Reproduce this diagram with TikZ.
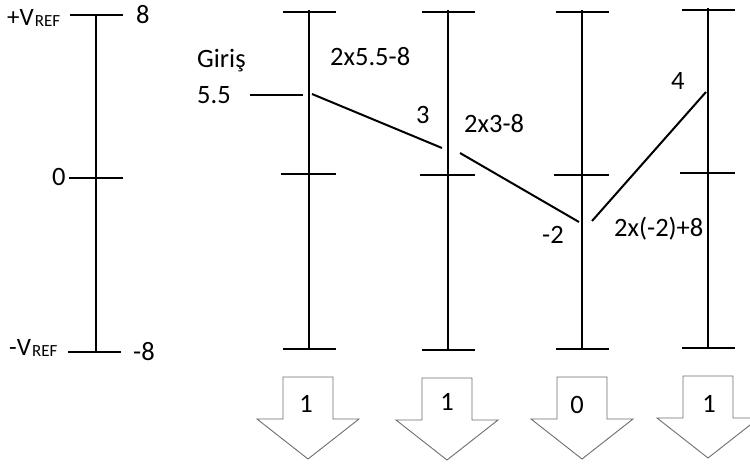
\documentclass[tikz,border=0pt]{standalone}
\usepackage{fontspec}
\setmainfont{Carlito}
\definecolor{arrowgray}{RGB}{110,110,110}
\begin{document}
\begin{tikzpicture}[x=1pt,y=-1pt,
  scaleline/.style={line width=2.6pt,black},
  diag/.style={line width=2pt,black},
  lbl/.style={font=\fontsize{26.5}{26.5}\selectfont,inner sep=0pt,anchor=base west},
  reflbl/.style={font=\fontsize{25}{25}\selectfont,inner sep=0pt,anchor=base west},
  arrowbox/.style={draw=arrowgray,line width=0.9pt,fill=white},
  dnarrow/.pic={
    \draw[arrowbox] (-25,0) -- (25,0) -- (25,42) -- (51,42) -- (0,82) -- (-51,42) -- (-25,42) -- cycle;
  }]
\useasboundingbox (0,0) rectangle (750,466);

% left reference scale
\coordinate (s0t) at (96,15);
\coordinate (s0b) at (96,352);
\draw[scaleline] (s0t) -- (s0b);
\draw[scaleline] (70,15) -- (123,15);
\draw[scaleline] (69,178) -- (123,178);
\draw[scaleline] (68,352) -- (121,352);

\node[reflbl] (vp) at (7,25) {+V\kern1pt\raisebox{-0.12ex}{\fontsize{17}{17}\selectfont REF}};
\node[reflbl] (vm) at (9,355) {-V\kern1pt\raisebox{-0.12ex}{\fontsize{17}{17}\selectfont REF}};
\node[lbl] (p8) at (136,23) {8};
\node[lbl] (m8) at (133,360) {-8};
\node[lbl] (z0) at (52,185) {0};

% stage scales
\foreach \x/\t/\m/\b in {309/12/174/349, 448/12/175/350, 582/12/175/349, 708/10/173/348}{
  \draw[scaleline] (\x,\t-2) -- (\x,\b+1);
  \draw[scaleline] (\x-26,\t) -- (\x+27,\t);
  \draw[scaleline] (\x-28,\m) -- (\x+27,\m);
  \draw[scaleline] (\x-26,\b) -- (\x+27,\b);
}

% input and residue lines
\coordinate (in0) at (250,95);
\coordinate (in1) at (303,95);
\coordinate (a0) at (312,94);
\coordinate (a1) at (442,148);
\coordinate (b0) at (460,153);
\coordinate (b1) at (579,222);
\coordinate (c0) at (592,221);
\coordinate (c1) at (706,92);
\draw[diag] (in0) -- (in1);
\draw[diag] (a0) -- (a1);
\draw[diag] (b0) -- (b1);
\draw[diag] (c0) -- (c1);

% labels
\node[lbl] (giris) at (197,67) {Giriş};
\node[lbl] (v55) at (197,103) {5.5};
\node[lbl] (e1) at (330,65) {2x5.5-8};
\node[lbl] (r3) at (416,123) {3};
\node[lbl] (e2) at (464,132) {2x3-8};
\node[lbl] (rm2) at (542,243) {-2};
\node[lbl] (e3) at (614,236) {2x(-2)+8};
\node[lbl] (r4) at (671,89) {4};

% output bit arrows
\pic at (308,377) {dnarrow};
\pic at (447,378) {dnarrow};
\pic at (582,377) {dnarrow};
\pic at (708,376) {dnarrow};
\node[lbl,anchor=base] (bit1) at (306,412) {1};
\node[lbl,anchor=base] (bit2) at (447,410) {1};
\node[lbl,anchor=base] (bit3) at (577,413) {0};
\node[lbl,anchor=base] (bit4) at (709,412) {1};
\end{tikzpicture}
\end{document}
